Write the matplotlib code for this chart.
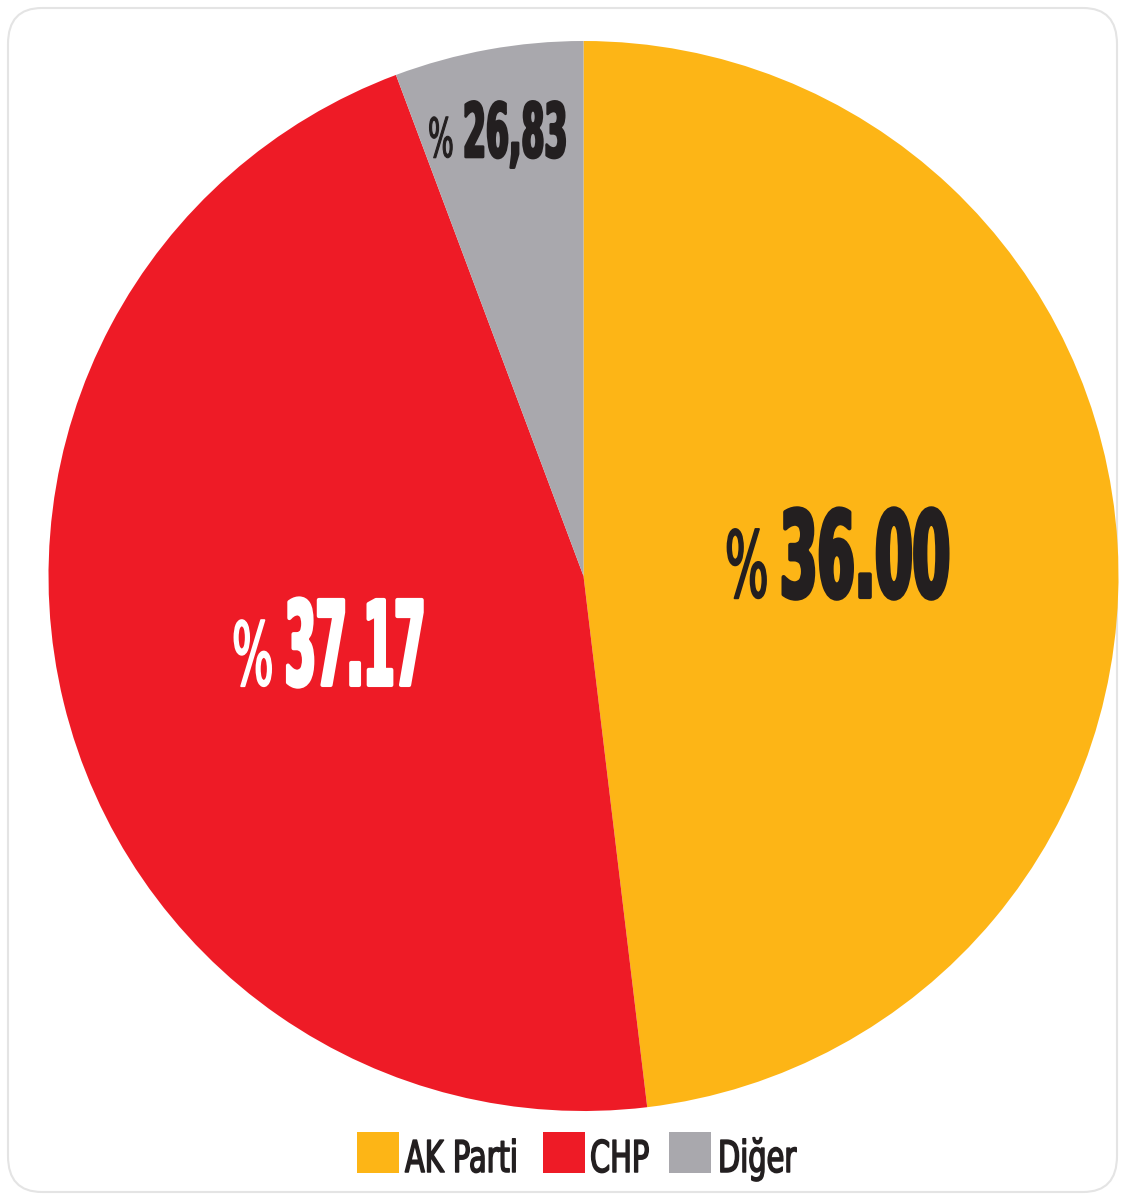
import matplotlib
matplotlib.use("Agg")
import matplotlib.pyplot as plt
from matplotlib.patches import FancyBboxPatch, Rectangle
from matplotlib.patheffects import AbstractPathEffect
from matplotlib.text import Text
from matplotlib.transforms import Affine2D, Bbox

# Data (slice shares; labels as printed)
parties = ["AK Parti", "CHP", "Diğer"]
shares = [48.1, 46.2, 5.7]
label_texts = ["36.00", "37.17", "26,83"]
colors = ["#FDB516", "#EE1B26", "#A9A8AD"]
text_colors = ["#231F20", "#FFFFFF", "#231F20"]

W, H = 1129, 1200
fig = plt.figure(figsize=(W / 100, H / 100), dpi=100)
fig.patch.set_facecolor("white")


class Squeeze(AbstractPathEffect):
    """Draw text horizontally condensed (around its left origin), optionally thickened."""
    def __init__(self, sx, lw=0.0):
        super().__init__()
        self.sx = sx
        self.lw = lw

    def draw_path(self, renderer, gc, tpath, affine, rgbFace=None):
        gc0 = renderer.new_gc()
        gc0.copy_properties(gc)
        if self.lw > 0 and rgbFace is not None:
            gc0.set_linewidth(self.lw)
            gc0.set_foreground(rgbFace)
            gc0.set_joinstyle("round")
        else:
            gc0.set_linewidth(0)
        renderer.draw_path(gc0, tpath, Affine2D().scale(self.sx, 1.0) + affine, rgbFace)
        gc0.restore()


class CondensedText(Text):
    """Left-aligned text drawn condensed; its reported extent matches the drawn width."""
    def __init__(self, x, y, s, sx=1.0, lw=0.0, **kw):
        super().__init__(x, y, s, ha="left", **kw)
        self._sx = sx
        self.set_path_effects([Squeeze(sx, lw)])

    def get_window_extent(self, renderer=None, dpi=None):
        bb = super().get_window_extent(renderer=renderer, dpi=dpi)
        return Bbox.from_extents(bb.x0, bb.y0, bb.x0 + bb.width * self._sx, bb.y1)


def ctext(x, y, s, sx, lw, **kw):
    t = CondensedText(x / W, 1 - y / H, s, sx=sx, lw=lw, va="baseline",
                      transform=fig.transFigure, **kw)
    fig.add_artist(t)
    return t


def fx(x):
    return x / W


def fy(y):
    return 1 - y / H


# outer rounded frame
frame = FancyBboxPatch((fx(8), fy(1192)), (1117 - 8) / W, (1192 - 8) / H,
                       boxstyle="round,pad=0,rounding_size=0.03",
                       transform=fig.transFigure, facecolor="white",
                       edgecolor="#E4E4E4", linewidth=1.5, zorder=-5)
fig.patches.append(frame)

cx, cy, r = 583.5, 576, 535
ax = fig.add_axes([(cx - r) / W, (H - cy - r) / H, 2 * r / W, 2 * r / H])
ax.set_zorder(1)
wedges, _ = ax.pie(shares, colors=colors, startangle=90, counterclock=False,
                   radius=1, center=(0, 0), wedgeprops=dict(linewidth=0))
ax.set_xlim(-1, 1)
ax.set_ylim(-1, 1)
ax.axis("off")

fam = "DejaVu Sans"

# label layout in pixels: (% left x, digits left x, baseline y, % size, digits size, squeeze digits)
layout = [
    (725, 780, 597, 66, 86, 0.45),
    (232, 285, 685, 63, 84, 0.38),
    (428, 463, 157, 39, 54, 0.44),
]
for txt, tc, (px, nx, by, ps, ns, sq) in zip(label_texts, text_colors, layout):
    ctext(px, by, "%", 0.5, ps * 0.02, fontsize=ps, color=tc, family=fam,
          fontweight="normal", zorder=5)
    ctext(nx, by, txt, sq, ns * 0.035, fontsize=ns, color=tc, family=fam,
          fontweight="bold", zorder=5)

# legend (manual, condensed)
sq_left = [357, 543, 669]
txt_left = [405, 590, 718]
for name, col, sl, tl in zip(parties, colors, sq_left, txt_left):
    fig.patches.append(Rectangle((fx(sl), fy(1173)), 42 / W, 41 / H,
                                 transform=fig.transFigure, facecolor=col,
                                 edgecolor="none", zorder=5))
    ctext(tl, 1172, name, 0.66, 1.1, fontsize=31.5, color="#231F20",
          family=fam, zorder=5)

fig.savefig("out.png", dpi=100, facecolor="white")
